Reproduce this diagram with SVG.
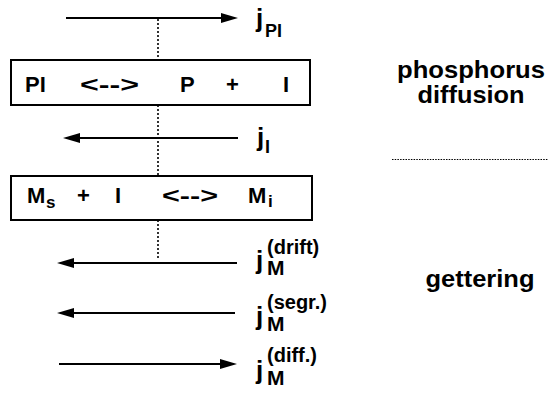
<svg xmlns="http://www.w3.org/2000/svg" width="548" height="395" viewBox="0 0 548 395">
<style>
text{font-family:"Liberation Sans",Arial,Helvetica,sans-serif;font-weight:bold;fill:#000}
.box{fill:#fff;stroke:#000;stroke-width:2}
.t{font-size:22px}
.sub{font-size:17px}
.j{font-size:26px}
.js{font-size:18px}
.sup{font-size:20px}
.m{font-size:21px}
.big{font-size:24px;text-anchor:middle}
.arr{stroke:#000;stroke-width:2;fill:none}
.dot{stroke:#000;stroke-width:1.6;stroke-dasharray:2 2;fill:none}
.sep{stroke:#000;stroke-width:1.2;stroke-dasharray:1.5 1.2;fill:none}
</style>
<defs>
<marker id="ah" markerUnits="userSpaceOnUse" markerWidth="17" markerHeight="10" refX="9" refY="5" orient="auto">
<path d="M0,0 L17,5 L0,10 z" fill="#000"/>
</marker>
</defs>
<g id="connectors">
<path class="dot" d="M158,19 V60 M158,105 V176 M158,220 V258"/>
<line class="arr" x1="66" y1="18" x2="230" y2="18" marker-end="url(#ah)"/>
<line class="arr" x1="238" y1="138" x2="71" y2="138" marker-end="url(#ah)"/>
<line class="arr" x1="237" y1="263" x2="65" y2="263" marker-end="url(#ah)"/>
<line class="arr" x1="235" y1="313" x2="65" y2="313" marker-end="url(#ah)"/>
<line class="arr" x1="59" y1="364" x2="229" y2="364" marker-end="url(#ah)"/>
<path class="sep" d="M392,159.5 H548"/>
</g>
<g id="box-pi">
<rect class="box" x="11" y="60" width="299" height="45"/>
<text class="t" x="25" y="92">PI</text>
<text class="t" x="80" y="92" textLength="59" lengthAdjust="spacingAndGlyphs">&lt;--&gt;</text>
<text class="t" x="180" y="92">P</text>
<text class="t" x="226" y="92">+</text>
<text class="t" x="283" y="92">I</text>
</g>
<g id="box-m">
<rect class="box" x="11" y="176" width="301" height="44"/>
<text class="t" x="27" y="203">M</text>
<text class="sub" x="46" y="208">s</text>
<text class="t" x="77" y="203">+</text>
<text class="t" x="115" y="203">I</text>
<text class="t" x="162" y="203" textLength="56" lengthAdjust="spacingAndGlyphs">&lt;--&gt;</text>
<text class="t" x="248" y="203">M</text>
<text class="sub" x="268" y="207">i</text>
</g>
<g id="label-jpi">
<text class="j" x="256" y="27">j</text>
<text class="js" x="265" y="37">PI</text>
</g>
<g id="label-ji">
<text class="j" x="257" y="146">j</text>
<text class="js" x="265" y="153">I</text>
</g>
<g id="label-drift">
<text class="j" x="256" y="269">j</text>
<text class="sup" x="267" y="254">(drift)</text>
<text class="m" x="267" y="275">M</text>
</g>
<g id="label-segr">
<text class="j" x="256" y="325">j</text>
<text class="sup" x="267" y="309">(segr.)</text>
<text class="m" x="267" y="331">M</text>
</g>
<g id="label-diff">
<text class="j" x="256" y="379">j</text>
<text class="sup" x="267" y="362">(diff.)</text>
<text class="m" x="267" y="385">M</text>
</g>
<g id="label-phos">
<text class="big" x="471" y="78" textLength="148" lengthAdjust="spacingAndGlyphs">phosphorus</text>
<text class="big" x="471" y="103" textLength="107" lengthAdjust="spacingAndGlyphs">diffusion</text>
</g>
<g id="label-gett">
<text class="big" x="480" y="287" textLength="109" lengthAdjust="spacingAndGlyphs">gettering</text>
</g>
</svg>
